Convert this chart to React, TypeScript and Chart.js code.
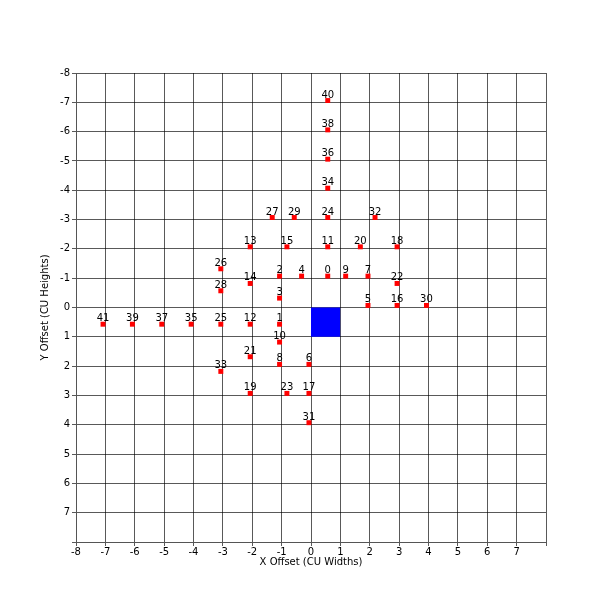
import React, { useEffect, useRef } from "react";
import { Chart, registerables } from "chart.js";

Chart.register(...registerables);

const pointIds = Array.from({ length: 42 }, (_, i) => String(i));
const xOffsets = [
  0.57, -1.07, -1.07, -1.07, -0.32, 1.94, -0.07, 1.94, -1.07, 1.18,
  -1.07, 0.57, -2.07, -2.07, -2.07, -0.82, 2.93, -0.07, 2.93, -2.07,
  1.68, -2.07, 2.93, -0.82, 0.57, -3.07, -3.07, -1.32, -3.07, -0.57,
  3.93, -0.07, 2.18, -3.07, 0.57, -4.08, 0.57, -5.08, 0.57, -6.08,
  0.57, -7.08,
];
const yOffsets = [
  -1.07, 0.57, -1.07, -0.32, -1.07, -0.07, 1.94, -1.07, 1.94, -1.07,
  1.18, -2.07, 0.57, -2.07, -0.82, -2.07, -0.07, 2.93, -2.07, 2.93,
  -2.07, 1.68, -0.82, 2.93, -3.07, 0.57, -1.32, -3.07, -0.57, -3.07,
  -0.07, 3.93, -3.07, 2.18, -4.07, 0.57, -5.06, 0.57, -6.06, 0.57,
  -7.06, 0.57,
];
const unitX = [0, 1];
const unitY = [0, 0];
const unitFillTo = 1;
const axisMin = -8;
const axisMax = 8;
const xTitle = "X Offset (CU Widths)";
const yTitle = "Y Offset (CU Heights)";

const FONT = "'DejaVu Sans', sans-serif";

const labelPlugin = {
  id: "pointLabels",
  afterDatasetsDraw(chart: any) {
    const meta = chart.getDatasetMeta(1);
    const ctx = chart.ctx;
    ctx.save();
    ctx.font = `10px ${FONT}`;
    ctx.fillStyle = "#000";
    ctx.textAlign = "center";
    ctx.textBaseline = "alphabetic";
    meta.data.forEach((el: any, i: number) => {
      ctx.fillText(pointIds[i], el.x, el.y - 3);
    });
    ctx.restore();
  },
};

export default function App() {
  const ref = useRef<HTMLCanvasElement | null>(null);
  useEffect(() => {
    document.body.style.margin = "0";
    const canvas = ref.current!;
    const tickCb = (v: any) => (Number(v) >= axisMax ? "" : String(v));
    const gridCfg = {
      color: "rgba(0,0,0,0.65)",
      lineWidth: 1,
      tickLength: 4,
      drawTicks: true,
    };
    const chart = new Chart(canvas, {
      type: "scatter",
      data: {
        datasets: [
          {
            type: "line",
            data: unitX.map((x, i) => ({ x, y: unitY[i] })),
            borderWidth: 0,
            borderColor: "rgba(0,0,255,0)",
            backgroundColor: "#0000ff",
            pointRadius: 0,
            fill: { value: unitFillTo },
            order: 2,
          } as any,
          {
            data: xOffsets.map((x, i) => ({ x, y: yOffsets[i] })),
            pointStyle: "rect",
            pointRadius: 3.5,
            backgroundColor: "#ff0000",
            borderColor: "#ff0000",
            borderWidth: 0,
            order: 1,
          },
        ],
      },
      options: {
        animation: false,
        responsive: false,
        layout: { padding: { top: 73, right: 62, left: 39, bottom: 40 } },
        plugins: {
          legend: { display: false },
          tooltip: { enabled: false },
          filler: { propagate: false },
        },
        scales: {
          x: {
            type: "linear",
            min: axisMin,
            max: axisMax,
            ticks: {
              stepSize: 1,
              callback: tickCb,
              color: "#000",
              font: { family: FONT, size: 10 },
              padding: 0,
              maxRotation: 0,
              autoSkip: false,
            },
            grid: gridCfg,
            border: { color: "#555", width: 1 },
            title: {
              display: true,
              text: xTitle,
              color: "#000",
              font: { family: FONT, size: 10 },
              padding: { top: 0, bottom: 0 },
            },
            afterFit: (s: any) => {
              s.height = 26;
            },
          },
          y: {
            type: "linear",
            reverse: true,
            min: axisMin,
            max: axisMax,
            ticks: {
              stepSize: 1,
              callback: tickCb,
              color: "#000",
              font: { family: FONT, size: 10 },
              padding: 2,
              autoSkip: false,
            },
            grid: gridCfg,
            border: { color: "#555", width: 1 },
            title: {
              display: true,
              text: yTitle,
              color: "#000",
              font: { family: FONT, size: 10 },
              padding: { top: 0, bottom: 0 },
            },
            afterFit: (s: any) => {
              s.width = 37;
            },
          },
        },
      } as any,
      plugins: [labelPlugin],
    });
    return () => chart.destroy();
  }, []);
  return (
    <canvas
      ref={ref}
      width={608}
      height={608}
      style={{ display: "block", width: 608, height: 608 }}
    />
  );
}
